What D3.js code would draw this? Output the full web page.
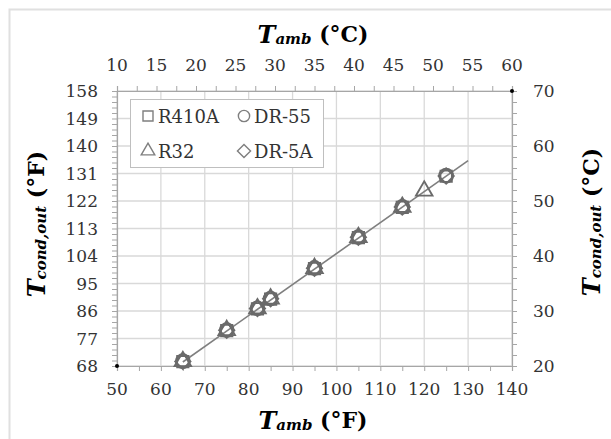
<!DOCTYPE html>
<html><head><meta charset="utf-8">
<script src="https://cdn.jsdelivr.net/npm/d3@7/dist/d3.min.js"></script>
<style>body{margin:0;background:#fff}svg{display:block}</style>
</head><body>
<svg id="c" width="611" height="439"></svg>
<script>
// ---- data ----
const xTicksF = [50,60,70,80,90,100,110,120,130,140];
const xTicksC = [10,15,20,25,30,35,40,45,50,55,60];
const yTicksF = [68,77,86,95,104,113,122,131,140,149,158];
const yTicksC = [20,30,40,50,60,70];
const tAmbF = [65,75,82,85,95,105,115,125];
const r410a = [69.4,79.6,86.7,89.9,99.9,110.0,119.9,130.1];
const dr55  = [69.6,79.8,86.9,90.1,100.1,110.2,120.1,130.3];
const dr5a  = [69.5,79.7,86.8,90.0,100.0,110.1,120.0,130.2];
const tAmbR32 = [65,75,82,85,95,105,115,120];
const r32   = [69.5,79.7,86.8,90.0,100.0,110.1,120.0,125.3];
const trendX = [65,130];
const trendY = [69.3,135.2];
const cornerX = [50,140];
const cornerY = [68,158];
const legendNames = ["R410A","DR-55","R32","DR-5A"];

// ---- layout ----
const svg = d3.select("#c");
const L=117,R=512,T=91,B=366;
const x = d3.scaleLinear().domain([50,140]).range([L,R]);
const xc = d3.scaleLinear().domain([10,60]).range([L,R]);
const y = d3.scaleLinear().domain([68,158]).range([B,T]);
const yc = d3.scaleLinear().domain([20,70]).range([B,T]);
const gridC="#d9d9d9", axC="#a6a6a6", txtC="#333", mk="#6a6a6a";
const font="'DejaVu Serif', serif";

svg.append("rect").attr("x",9.5).attr("y",9.5).attr("width",640).attr("height",480)
  .attr("fill","#fff").attr("stroke","#e0e0e0").attr("stroke-width",2);

// gridlines
const g = svg.append("g");
g.selectAll(".vg").data(xTicksF).join("line")
  .attr("x1",d=>x(d)).attr("x2",d=>x(d)).attr("y1",T).attr("y2",B)
  .attr("stroke",gridC).attr("stroke-width",1.3);
g.selectAll(".hg").data(yTicksF).join("line")
  .attr("x1",L).attr("x2",R).attr("y1",d=>y(d)).attr("y2",d=>y(d))
  .attr("stroke",gridC).attr("stroke-width",1.3);

// axes with minor ticks
function ticksFrom(a,b,s){const r=[];for(let v=a;v<=b+1e-9;v+=s)r.push(+v.toFixed(4));return r;}
const axBot = svg.append("g").attr("transform",`translate(0,${B})`)
  .call(d3.axisBottom(x).tickValues(ticksFrom(50,140,5)).tickSize(5).tickFormat(""));
const axTop = svg.append("g").attr("transform",`translate(0,${T})`)
  .call(d3.axisTop(xc).tickValues(ticksFrom(10,60,2.5)).tickSize(5).tickFormat(""));
const axLeft = svg.append("g").attr("transform",`translate(${L},0)`)
  .call(d3.axisLeft(y).tickValues(ticksFrom(68,158,1.8)).tickSize(5).tickFormat(""));
const axRight = svg.append("g").attr("transform",`translate(${R},0)`)
  .call(d3.axisRight(yc).tickValues(ticksFrom(20,70,2)).tickSize(5).tickFormat(""));
[axBot,axTop,axLeft,axRight].forEach(a=>{a.selectAll("path").attr("stroke",axC).attr("stroke-width",1.2);
  a.selectAll("line").attr("stroke",axC);});

// tick labels
function lab(data,fx,fy,anchor){
  svg.append("g").selectAll("text").data(data).join("text")
   .attr("x",fx).attr("y",fy).attr("text-anchor",anchor).attr("dominant-baseline","central")
   .attr("font-family",font).attr("font-size",17).attr("fill",txtC).text(d=>d);
}
lab(xTicksF,d=>x(d),()=>389,"middle");
lab(xTicksC,d=>xc(d),()=>65,"middle");
lab(yTicksF,()=>98,d=>y(d),"end");
lab(yTicksC,()=>533,d=>yc(d),"start");

// titles
function title(tx,ty,rot,sub,unit){
  const t = svg.append("text").attr("transform",`translate(${tx},${ty}) rotate(${rot})`)
    .attr("text-anchor","middle").attr("dominant-baseline","central")
    .attr("font-family",font).attr("font-weight","bold").attr("fill","#000").attr("font-size",22);
  t.append("tspan").attr("font-style","italic").attr("font-size",24).text("T");
  t.append("tspan").attr("font-style","italic").attr("font-size",15).attr("dy",5).text(sub);
  t.append("tspan").attr("dy",-5).text(" ("+unit+")");
}
title(313,34,0,"amb","°C");
title(313,420,0,"amb","°F");
title(36,224,-90,"cond,out","°F");
title(591,222,-90,"cond,out","°C");

// corner dots
svg.append("g").selectAll("circle").data(cornerX).join("circle")
  .attr("cx",d=>x(d)).attr("cy",(d,i)=>y(cornerY[i])).attr("r",2).attr("fill","#000");

// trend line
svg.append("line").attr("x1",x(trendX[0])).attr("y1",y(trendY[0]))
  .attr("x2",x(trendX[1])).attr("y2",y(trendY[1]))
  .attr("stroke","#7f7f7f").attr("stroke-width",1.6);

// markers
const sym = {
  "R410A": d3.symbol().type(d3.symbolSquare).size(130),
  "DR-55": d3.symbol().type(d3.symbolCircle).size(150),
  "R32": d3.symbol().type(d3.symbolTriangle).size(120),
  "DR-5A": d3.symbol().type(d3.symbolDiamond2).size(150)
};
const series = [
  {name:"R410A",xs:tAmbF,ys:r410a},
  {name:"DR-55",xs:tAmbF,ys:dr55},
  {name:"R32",xs:tAmbR32,ys:r32},
  {name:"DR-5A",xs:tAmbF,ys:dr5a}
];
series.forEach(s=>{
  svg.append("g").selectAll("path").data(s.xs).join("path")
   .attr("transform",(d,i)=>`translate(${x(d)},${y(s.ys[i])})`)
   .attr("d",sym[s.name]()).attr("fill","none").attr("stroke",mk).attr("stroke-width",1.8);
});

// legend
const lg = svg.append("g");
lg.append("rect").attr("x",130.5).attr("y",99.5).attr("width",193).attr("height",68)
  .attr("fill","#fff").attr("stroke","#bfbfbf").attr("stroke-width",1);
const lpos = [[148,116],[244,116],[148,151],[244,151]];
const lsym = {
  "R410A": d3.symbol().type(d3.symbolSquare).size(100),
  "DR-55": d3.symbol().type(d3.symbolCircle).size(100),
  "R32": d3.symbol().type(d3.symbolTriangle).size(80),
  "DR-5A": d3.symbol().type(d3.symbolDiamond2).size(110)
};
legendNames.forEach((n,i)=>{
  lg.append("path").attr("transform",`translate(${lpos[i][0]},${lpos[i][1]})`)
    .attr("d",lsym[n]()).attr("fill","none").attr("stroke","#7f7f7f").attr("stroke-width",1.4);
  lg.append("text").attr("x",lpos[i][0]+10).attr("y",lpos[i][1]).attr("dominant-baseline","central")
    .attr("font-family",font).attr("font-size",18).attr("fill",txtC).text(n);
});
</script>
</body></html>
